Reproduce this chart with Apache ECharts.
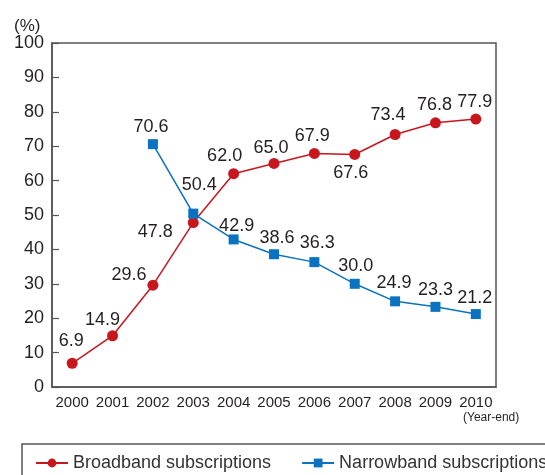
<!DOCTYPE html>
<html>
<head>
<meta charset="utf-8">
<script src="https://cdn.jsdelivr.net/npm/echarts@6/dist/echarts.min.js"></script>
<style>
  html, body { margin: 0; padding: 0; background: #fff; }
  #chart { width: 545px; height: 475px; }
</style>
</head>
<body>
<div id="chart"></div>
<script>
// data
var years = ['2000', '2001', '2002', '2003', '2004', '2005', '2006', '2007', '2008', '2009', '2010']
var broadband = [6.9, 14.9, 29.6, 47.8, 62.0, 65.0, 67.9, 67.6, 73.4, 76.8, 77.9]
var narrowband = [null, null, 70.6, 50.4, 42.9, 38.6, 36.3, 30.0, 24.9, 23.3, 21.2]
var seriesNames = ['Broadband subscriptions', 'Narrowband subscriptions']

// where each value label sits relative to its marker (px)
var broadbandLabelOffset = [[-1, -22], [-10, -16], [-24, -10], [-38, 9], [-9, -18], [-3, -15],
  [-2, -17], [-4, 19], [-7, -19], [-1, -18], [-1, -17]]
var narrowbandLabelOffset = [null, null, [-2, -17], [6, -29], [3, -13], [3, -16],
  [3, -19], [1, -18], [-1, -18], [0, -17], [-1, -16]]

var font = 'Liberation Sans, Arial, sans-serif'
var textColor = '#231f20'
var axisColor = '#555'

function buildData(values, offsets) {
  return values.map(function(v, i) {
    if (v === null) return '-'
    return {
      value: v,
      label: {
        show: true,
        position: 'inside',
        offset: offsets[i],
        formatter: v.toFixed(1)
      }
    }
  })
}

var chart = echarts.init(document.getElementById('chart'))
chart.setOption({
  animation: false,
  textStyle: { fontFamily: font },
  grid: {
    left: 52,
    right: 49,
    top: 43,
    bottom: 88,
    show: true,
    borderColor: axisColor,
    borderWidth: 1.5
  },
  legend: {
    data: seriesNames,
    left: 22,
    top: 444,
    width: 900,
    padding: [10, 80, 10, 13],
    itemWidth: 32,
    itemHeight: 11,
    itemGap: 30,
    borderColor: axisColor,
    borderWidth: 1.5,
    textStyle: { fontSize: 18, color: '#333', fontFamily: font }
  },
  xAxis: {
    type: 'category',
    data: years,
    boundaryGap: true,
    axisLine: { lineStyle: { color: axisColor, width: 1.5 } },
    axisTick: { inside: true, length: 7, lineStyle: { color: axisColor, width: 1.2 } },
    axisLabel: { interval: 0, hideOverlap: false, fontSize: 15, color: textColor, margin: 8 }
  },
  yAxis: {
    type: 'value',
    min: 0,
    max: 100,
    interval: 10,
    splitLine: { show: false },
    axisLine: { show: true, lineStyle: { color: axisColor, width: 1.5 } },
    axisTick: { show: true, inside: true, length: 7, lineStyle: { color: axisColor, width: 1.2 } },
    axisLabel: { fontSize: 18, color: textColor, margin: 8 }
  },
  graphic: [
    {
      type: 'text',
      left: 14,
      top: 18,
      style: { text: '(%)', fontSize: 17, fill: textColor, font: '17px ' + font }
    },
    {
      type: 'text',
      left: 463,
      top: 412,
      style: { text: '(Year-end)', fontSize: 12, fill: textColor, font: '12px ' + font }
    }
  ],
  series: [
    {
      name: seriesNames[0],
      type: 'line',
      data: buildData(broadband, broadbandLabelOffset),
      symbol: 'circle',
      symbolSize: 11,
      itemStyle: { color: '#c8161d' },
      lineStyle: { color: '#c8161d', width: 1.5 },
      label: { fontSize: 18, color: textColor, fontFamily: font }
    },
    {
      name: seriesNames[1],
      type: 'line',
      data: buildData(narrowband, narrowbandLabelOffset),
      symbol: 'rect',
      symbolSize: 10,
      itemStyle: { color: '#0a72c0' },
      lineStyle: { color: '#0a72c0', width: 1.5 },
      label: { fontSize: 18, color: textColor, fontFamily: font }
    }
  ]
})
</script>
</body>
</html>
